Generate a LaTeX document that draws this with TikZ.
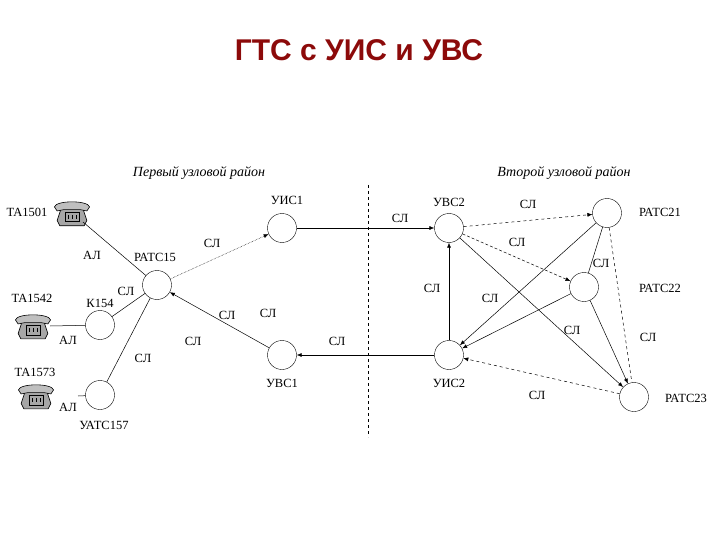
\documentclass[tikz,border=0pt]{standalone}
\usepackage{fontspec}
\setmainfont{Liberation Serif}
\newfontfamily\titlefont{Liberation Sans}
\usetikzlibrary{arrows.meta}
\definecolor{titlered}{RGB}{140,10,10}
\tikzset{
  st/.style={circle,draw,minimum size=29pt,inner sep=0pt},
  lb/.style={font=\fontsize{12.5}{13}\selectfont,inner sep=0pt},
  ar/.style={-{Latex[length=5pt,width=4pt]}},
  ln/.style={line width=0.5pt}
}
\newcommand{\phoneicon}[2]{%
  \begin{scope}[shift={(#1,#2)},scale=1.35]
    \fill[gray!70,draw=black,line width=0.6pt] (-11,4) -- (-8,-5) -- (8,-5) -- (11,4) -- (9,8) -- (-9,8) -- cycle;
    \fill[gray!50,draw=black,line width=0.6pt] (-13,-6) .. controls (-12,-11) and (12,-11) .. (13,-6) -- (11,-3) -- (6,-4) -- (-6,-4) -- (-11,-3) -- cycle;
    \draw[line width=0.5pt] (-5,-2) rectangle (5,5);
    \foreach \i in {-3,0,3}{\draw (\i,0) -- (\i,3);}
  \end{scope}}
\begin{document}
\begin{tikzpicture}[x=1pt,y=-1pt]
\useasboundingbox (0,0) rectangle (720,540);
\node[font=\titlefont\bfseries\fontsize{30}{34}\selectfont,text=titlered] (title) at (359,50) {ГТС с УИС и УВС};
\node[lb,font=\itshape\fontsize{14}{15}\selectfont] (h1) at (199,173) {Первый узловой район};
\node[lb,font=\itshape\fontsize{14}{15}\selectfont] (h2) at (564,173) {Второй узловой район};
\draw[dashed] (368,185) coordinate (d1) -- (368,437) coordinate (d2);
% phones
\phoneicon{72}{215}
\phoneicon{33}{328}
\phoneicon{36}{398}
\coordinate (p1) at (83,222);
\coordinate (p2) at (50,326);
\coordinate (p3) at (78,396);
% stations
\node[st] (r15) at (157,285) {};
\node[st] (uis1) at (282,228) {};
\node[st] (uvs1) at (282,355) {};
\node[st] (k154) at (100,325) {};
\node[st] (u157) at (100,395) {};
\node[st] (uvs2) at (449,228) {};
\node[st] (uis2) at (449,355) {};
\node[st] (r21) at (607,213) {};
\node[st] (r22) at (584,287) {};
\node[st] (r23) at (634,397) {};
% connectors
\draw[ln] (p1) -- (r15);
\draw[ln] (p2) -- (k154);
\draw[ln] (p3) -- (u157);
\draw[ln] (k154) -- (r15);
\draw[ln] (u157) -- (r15);
\draw[ln,ar,densely dotted] (r15) -- (uis1);
\draw[ln,ar] (uvs1) -- (r15);
\draw[ln,ar] (uis1) -- (uvs2);
\draw[ln,ar] (uis2) -- (uvs1);
\draw[ln,ar,dashed] (uvs2) -- (r21);
\draw[ln,ar,densely dashed] (uvs2) -- (r22);
\draw[ln,ar] (uvs2) -- (r23);
\draw[ln,ar] (uis2) -- (uvs2);
\draw[ln,ar] (r21) -- (uis2);
\draw[ln,ar] (r22) -- (uis2);
\draw[ln] (r21) -- (r22);
\draw[ln,dashed] (r21) -- (r23);
\draw[ln,ar] (r22) -- (r23);
\draw[ln,ar,dashed] (r23) -- (uis2);
% labels
\node[lb] (l1) at (27,212) {TA1501};
\node[lb] (l2) at (32,298) {TA1542};
\node[lb] (l3) at (35,372) {TA1573};
\node[lb] (l4) at (92,255) {АЛ};
\node[lb] (l5) at (68,340) {АЛ};
\node[lb] (l6) at (68,407) {АЛ};
\node[lb] (l7) at (155,257) {РАТС15};
\node[lb] (l8) at (100,303) {К154};
\node[lb] (l9) at (104,425) {УАТС157};
\node[lb] (l10) at (126,291) {СЛ};
\node[lb] (l11) at (212,243) {СЛ};
\node[lb] (l12) at (227,315) {СЛ};
\node[lb] (l13) at (268,313) {СЛ};
\node[lb] (l14) at (193,341) {СЛ};
\node[lb] (l15) at (143,358) {СЛ};
\node[lb] (l16) at (337,341) {СЛ};
\node[lb] (l17) at (287,200) {УИС1};
\node[lb] (l18) at (282,383) {УВС1};
\node[lb] (l19) at (400,218) {СЛ};
\node[lb] (l20) at (449,202) {УВС2};
\node[lb] (l21) at (528,204) {СЛ};
\node[lb] (l22) at (660,212) {РАТС21};
\node[lb] (l23) at (517,242) {СЛ};
\node[lb] (l24) at (601,263) {СЛ};
\node[lb] (l25) at (660,288) {РАТС22};
\node[lb] (l26) at (432,288) {СЛ};
\node[lb] (l27) at (490,298) {СЛ};
\node[lb] (l28) at (572,330) {СЛ};
\node[lb] (l29) at (648,337) {СЛ};
\node[lb] (l30) at (449,383) {УИС2};
\node[lb] (l31) at (537,395) {СЛ};
\node[lb] (l32) at (686,398) {РАТС23};
\end{tikzpicture}
\end{document}
